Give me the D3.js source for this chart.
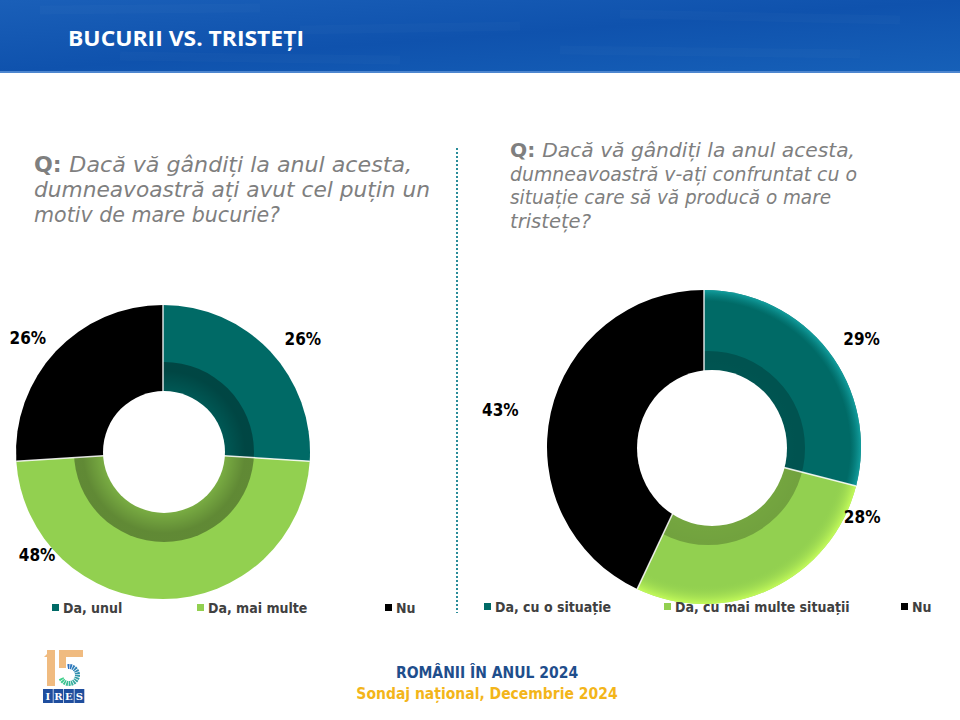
<!DOCTYPE html>
<html>
<head>
<meta charset="utf-8">
<script src="https://cdn.jsdelivr.net/npm/d3@7"></script>
<style>
  html, body { margin: 0; padding: 0; background: #ffffff; }
  svg { display: block; }
</style>
</head>
<body>
<script>
// ---------- DATA ----------
const titleText = "BUCURII VS. TRISTEȚI";
const leftQuestion = ["Dacă vă gândiți la anul acesta,", "dumneavoastră ați avut cel puțin un", "motiv de mare bucurie?"];
const rightQuestion = ["Dacă vă gândiți la anul acesta,", "dumneavoastră v-ați confruntat cu o", "situație care să vă producă o mare", "tristețe?"];
const leftCategories = ["Da, unul", "Da, mai multe", "Nu"];
const leftValues = [26, 48, 26];
const rightCategories = ["Da, cu o situație", "Da, cu mai multe situații", "Nu"];
const rightValues = [29, 28, 43];
const footerLine1 = "ROMÂNII ÎN ANUL 2024";
const footerLine2 = "Sondaj național, Decembrie 2024";

// ---------- STYLE ----------
const W = 960, H = 720;
const sliceColors = ["#006a66", "#92d050", "#000000"];
const FONT = "'DejaVu Sans Condensed', 'DejaVu Sans', sans-serif";

const svg = d3.select("body").append("svg").attr("width", W).attr("height", H);
const defs = svg.append("defs");

// header gradient
const hg = defs.append("linearGradient").attr("id", "hdr").attr("x1", 0).attr("y1", 0).attr("x2", 1).attr("y2", 1);
hg.append("stop").attr("offset", "0%").attr("stop-color", "#1a5fb8");
hg.append("stop").attr("offset", "50%").attr("stop-color", "#0f52ad");
hg.append("stop").attr("offset", "100%").attr("stop-color", "#1660b8");

// ring shadow gradients
function ringGrad(id, inner, outer) {
  const g = defs.append("radialGradient").attr("id", id);
  g.append("stop").attr("offset", inner.o).attr("stop-color", "#000").attr("stop-opacity", inner.a);
  g.append("stop").attr("offset", outer.o).attr("stop-color", "#000").attr("stop-opacity", outer.a);
  g.append("stop").attr("offset", "100%").attr("stop-color", "#000").attr("stop-opacity", outer.a);
  return g;
}
ringGrad("ringL", {o: "66%", a: 0.16}, {o: "90%", a: 0.34});
ringGrad("ringR", {o: "76%", a: 0.2}, {o: "95%", a: 0.22});

// glows on right donut
const gl = defs.append("radialGradient").attr("id", "limeGlow")
  .attr("gradientUnits", "userSpaceOnUse").attr("cx", 0).attr("cy", 0).attr("r", 157);
gl.append("stop").attr("offset", "88%").attr("stop-color", "#92d050").attr("stop-opacity", 0);
gl.append("stop").attr("offset", "100%").attr("stop-color", "#c8ff5a").attr("stop-opacity", 0.9);
const tl = defs.append("radialGradient").attr("id", "tealGlow")
  .attr("gradientUnits", "userSpaceOnUse").attr("cx", 0).attr("cy", 0).attr("r", 157);
tl.append("stop").attr("offset", "93%").attr("stop-color", "#0a8f8f").attr("stop-opacity", 0);
tl.append("stop").attr("offset", "100%").attr("stop-color", "#14a3a3").attr("stop-opacity", 0.9);

// ---------- HEADER ----------
svg.append("rect").attr("x", 0).attr("y", 0).attr("width", W).attr("height", 72).attr("fill", "url(#hdr)");
const strokes = [[40, 10, 260, 8], [300, 30, 520, 26], [620, 14, 900, 20], [120, 56, 400, 60], [560, 50, 860, 54]];
svg.append("g").selectAll("line").data(strokes).join("line")
  .attr("x1", d => d[0]).attr("y1", d => d[1]).attr("x2", d => d[2]).attr("y2", d => d[3])
  .attr("stroke", "#ffffff").attr("stroke-opacity", 0.02).attr("stroke-width", 9);
svg.append("rect").attr("x", 0).attr("y", 71).attr("width", W).attr("height", 2).attr("fill", "#4d86cf");
svg.append("text").attr("x", 68).attr("y", 46)
  .attr("font-family", "'Open Sans', sans-serif").attr("font-weight", 700).attr("font-size", 21)
  .attr("fill", "#ffffff").attr("textLength", 236).attr("lengthAdjust", "spacingAndGlyphs")
  .text(titleText);

// ---------- QUESTIONS ----------
function question(x, y0, lh, lines, size, len) {
  const t = svg.append("g");
  lines.forEach((ln, i) => {
    const tx = t.append("text").attr("x", x).attr("y", y0 + i * lh)
      .attr("font-family", FONT).attr("font-size", size).attr("fill", "#7f7f7f");
    if (i === 0) {
      tx.append("tspan").attr("font-weight", 700).attr("font-style", "normal").text("Q: ");
    }
    tx.append("tspan").attr("font-style", "italic").text(ln);
    if (len[i]) tx.attr("textLength", len[i]).attr("lengthAdjust", "spacingAndGlyphs");
  });
}
question(34, 172, 25, leftQuestion, 21, [378, 396, 246]);
question(510, 157, 23.5, rightQuestion, 20, [345, 347, 321, 81]);

// divider
svg.append("line").attr("x1", 457).attr("x2", 457).attr("y1", 148).attr("y2", 613)
  .attr("stroke", "#2a8c99").attr("stroke-width", 2).attr("stroke-dasharray", "2,2");

// ---------- DONUTS ----------
function donut(opts) {
  const {values, cx, cy, R, ring, holeDx, holeDy, holeRx, holeRy, labels, glow} = opts;
  const g = svg.append("g").attr("transform", `translate(${cx},${cy})`);
  const pie = d3.pie().sort(null).value(d => d);
  const arcs = pie(values);
  const arc = d3.arc().innerRadius(0).outerRadius(R);
  g.selectAll("path.slice").data(arcs).join("path").attr("class", "slice")
    .attr("d", arc).attr("fill", (d, i) => sliceColors[i]);
  if (glow) {
    g.append("path").attr("d", arc(arcs[1])).attr("fill", "url(#limeGlow)");
    g.append("path").attr("d", arc(arcs[0])).attr("fill", "url(#tealGlow)");
  }
  g.append("path")
    .attr("d", d3.arc().innerRadius(0).outerRadius(ring.r).startAngle(0).endAngle(2 * Math.PI)())
    .attr("transform", `translate(${ring.dx},${ring.dy})`)
    .attr("fill", `url(#${ring.grad})`);
  g.selectAll("line.sep").data(arcs).join("line").attr("class", "sep")
    .attr("x1", 0).attr("y1", 0)
    .attr("x2", d => R * Math.sin(d.startAngle)).attr("y2", d => -R * Math.cos(d.startAngle))
    .attr("stroke", "#ffffff").attr("stroke-width", 1.5).attr("stroke-opacity", 0.85);
  g.append("ellipse").attr("cx", holeDx).attr("cy", holeDy).attr("rx", holeRx).attr("ry", holeRy).attr("fill", "#ffffff");
  g.selectAll("text.lbl").data(arcs).join("text").attr("class", "lbl")
    .attr("x", (d, i) => labels[i].r * Math.sin(labels[i].a * Math.PI / 180))
    .attr("y", (d, i) => -labels[i].r * Math.cos(labels[i].a * Math.PI / 180))
    .attr("text-anchor", "middle").attr("dominant-baseline", "central")
    .attr("font-family", FONT).attr("font-weight", 700).attr("font-size", 17).attr("fill", "#000")
    .text(d => d.data + "%");
}

donut({
  values: leftValues, cx: 163, cy: 452, R: 147,
  ring: {r: 90, dx: 1, dy: 0, grad: "ringL"},
  holeDx: 1, holeDy: 0, holeRx: 61, holeRy: 61,
  labels: [{a: 51, r: 180}, {a: 230.6, r: 163}, {a: 310.2, r: 177}]
});
donut({
  values: rightValues, cx: 704, cy: 447, R: 157,
  ring: {r: 97, dx: 4, dy: 1, grad: "ringR"},
  holeDx: 8, holeDy: 1, holeRx: 75, holeRy: 78,
  labels: [{a: 55.6, r: 191}, {a: 113.9, r: 173}, {a: 280.3, r: 207}],
  glow: true
});

// ---------- LEGENDS ----------
function legend(items, xs, y) {
  const g = svg.append("g");
  items.forEach((name, i) => {
    g.append("rect").attr("x", xs[i]).attr("y", y - 4).attr("width", 7).attr("height", 7).attr("fill", sliceColors[i]);
    g.append("text").attr("x", xs[i] + 11).attr("y", y).attr("dominant-baseline", "central")
      .attr("font-family", FONT).attr("font-weight", 700).attr("font-size", 14).attr("fill", "#404040")
      .text(name);
  });
}
legend(leftCategories, [52, 197, 385], 608);
legend(rightCategories, [484, 664, 901], 607);

// ---------- FOOTER ----------
svg.append("text").attr("x", 487).attr("y", 673).attr("text-anchor", "middle").attr("dominant-baseline", "central")
  .attr("font-family", FONT).attr("font-weight", 700).attr("font-size", 15.5).attr("fill", "#1f4e8c")
  .text(footerLine1);
svg.append("text").attr("x", 487).attr("y", 694).attr("text-anchor", "middle").attr("dominant-baseline", "central")
  .attr("font-family", FONT).attr("font-weight", 700).attr("font-size", 15.5).attr("fill", "#f3b51a")
  .text(footerLine2);

// logo
const logo = svg.append("g").attr("transform", "translate(44,650)");
logo.append("rect").attr("x", 3).attr("y", 0).attr("width", 8).attr("height", 36).attr("fill", "#f0bb80");
logo.append("path").attr("d", "M0,7 L7,0 L11,0 L11,7 Z").attr("fill", "#f0bb80");
logo.append("rect").attr("x", 15).attr("y", 0).attr("width", 24).attr("height", 7).attr("fill", "#f0bb80");
logo.append("rect").attr("x", 15).attr("y", 0).attr("width", 7).attr("height", 18).attr("fill", "#f0bb80");
const segs = d3.range(16);
const segColor = d3.scaleLinear().domain([0, 15]).range(["#2a6fc0", "#3fd08a"]);
const segSpan = Math.PI * 1.45 / 16;
logo.append("g").attr("transform", "translate(25,25)").selectAll("path").data(segs).join("path")
  .attr("d", (d) => d3.arc().innerRadius(6).outerRadius(11)
    .startAngle(-Math.PI * 0.05 + d * segSpan).endAngle(-Math.PI * 0.05 + (d + 0.72) * segSpan)())
  .attr("fill", (d) => segColor(d));
const ires = ["I", "R", "E", "S"];
logo.selectAll("g.box").data(ires).join("g").attr("class", "box")
  .attr("transform", (d, i) => `translate(${i * 10.5 - 1},39)`)
  .each(function(d) {
    const b = d3.select(this);
    b.append("rect").attr("width", 9.8).attr("height", 14).attr("fill", "#1f4e9e");
    b.append("text").attr("x", 4.9).attr("y", 11).attr("text-anchor", "middle")
      .attr("font-family", "'DejaVu Serif', serif").attr("font-size", 10).attr("font-weight", 700)
      .attr("fill", "#fff").text(d);
  });
</script>
</body>
</html>
